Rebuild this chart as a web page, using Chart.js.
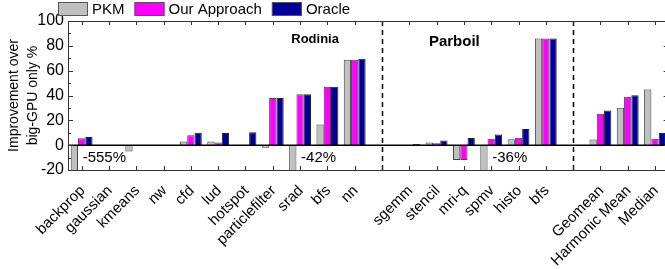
<!DOCTYPE html>
<html>
<head>
<meta charset="utf-8">
<script src="https://cdn.jsdelivr.net/npm/chart.js@4.4.1/dist/chart.umd.min.js"></script>
<style>
  html, body { margin: 0; padding: 0; background: #fff; overflow: hidden; }
  #wrap { position: relative; width: 665px; height: 269px; overflow: hidden; }
  #chart { position: absolute; left: 0; top: 0; }
</style>
</head>
<body>
<div id="wrap"><canvas id="chart" width="680" height="269"></canvas></div>
<script>
// benchmarks, with an empty slot where the dashed separators go
const categories = ['backprop', 'gaussian', 'kmeans', 'nw', 'cfd', 'lud', 'hotspot', 'particlefilter', 'srad', 'bfs', 'nn', '',
  'sgemm', 'stencil', 'mri-q', 'spmv', 'histo', 'bfs', '',
  'Geomean', 'Harmonic Mean', 'Median'];

const pkm = [-555, 0, -5, 0, 3, 3, 0, -2, -42, 16.7, 68.8, null,
  0, 2.2, -12, -36, 4.8, 86, null,
  4.6, 30.2, 44.8];
const ourApproach = [5.5, 0, 0, 0, 8, 2.2, 0, 38, 41, 47, 68.8, null,
  0, 1.6, -12, 5.1, 6, 86, null,
  25.4, 39, 5.1];
const oracle = [6.5, 0, 0, 0, 10, 9.7, 10.5, 38, 41, 47, 69.6, null,
  1, 3.8, 5.7, 8.6, 13, 86, null,
  28, 40.2, 9.7];

const yTicks = [-20, 0, 20, 40, 60, 80, 100];

// labels for the bars that run off the bottom of the plot
const clippedIdx = [0, 8, 15];
const clippedText = ['-555%', '-42%', '-36%'];

const separators = [11, 18];
const suiteNames = ['Rodinia', 'Parboil'];

const FONT = '"Liberation Sans", Arial, sans-serif';

const decor = {
  id: 'decor',
  afterDatasetsDraw(chart) {
    const ctx = chart.ctx;
    const area = chart.chartArea;
    const x = chart.scales.x;
    const y = chart.scales.y;
    const step = x.getPixelForValue(1) - x.getPixelForValue(0);
    ctx.save();

    // zero line
    ctx.strokeStyle = '#000';
    ctx.lineWidth = 1.5;
    ctx.beginPath();
    ctx.moveTo(area.left, y.getPixelForValue(0));
    ctx.lineTo(area.right, y.getPixelForValue(0));
    ctx.stroke();

    // dashed separators
    ctx.setLineDash([5, 4]);
    separators.forEach(i => {
      const px = Math.round(x.getPixelForValue(i)) + 0.5;
      ctx.beginPath();
      ctx.moveTo(px, area.top);
      ctx.lineTo(px, area.bottom);
      ctx.stroke();
    });
    ctx.setLineDash([]);

    // frame
    ctx.strokeStyle = '#333';
    ctx.lineWidth = 1;
    ctx.strokeRect(area.left + 0.5, area.top + 0.5, area.right - area.left, area.bottom - area.top);

    // inward ticks
    ctx.beginPath();
    for (let v = -20; v <= 100; v += 10) {
      const py = Math.round(y.getPixelForValue(v)) + 0.5;
      const len = v % 20 === 0 ? 5 : 3;
      ctx.moveTo(area.left, py); ctx.lineTo(area.left + len, py);
      ctx.moveTo(area.right, py); ctx.lineTo(area.right - len, py);
    }
    categories.forEach((c, i) => {
      const px = Math.round(x.getPixelForValue(i)) + 0.5;
      ctx.moveTo(px, area.bottom); ctx.lineTo(px, area.bottom - 4);
      ctx.moveTo(px, area.top); ctx.lineTo(px, area.top + 4);
    });
    ctx.stroke();

    // values of clipped bars
    ctx.fillStyle = '#000';
    ctx.font = '15px ' + FONT;
    ctx.textAlign = 'left';
    ctx.textBaseline = 'middle';
    clippedIdx.forEach((i, k) => {
      ctx.fillText(clippedText[k], x.getPixelForValue(i) + 1, y.getPixelForValue(-10));
    });

    // suite names
    ctx.textAlign = 'center';
    ctx.font = 'bold 13px ' + FONT;
    ctx.fillText(suiteNames[0], x.getPixelForValue(8) + step * 0.55, y.getPixelForValue(85));
    ctx.font = 'bold 15px ' + FONT;
    ctx.fillText(suiteNames[1], x.getPixelForValue(13) + step * 0.65, y.getPixelForValue(83));

    ctx.restore();
  },
  afterDraw(chart) {
    // legend row across the top
    const ctx = chart.ctx;
    ctx.save();
    ctx.font = '15px ' + FONT;
    ctx.textAlign = 'left';
    ctx.textBaseline = 'middle';
    let lx = 58;
    chart.data.datasets.forEach(ds => {
      ctx.fillStyle = ds.backgroundColor;
      ctx.fillRect(lx, 2, 30, 14);
      ctx.strokeStyle = '#555';
      ctx.lineWidth = 1;
      ctx.strokeRect(lx + 0.5, 2.5, 29, 13);
      ctx.fillStyle = '#000';
      ctx.fillText(ds.label, lx + 34, 9.5);
      lx += 34 + ctx.measureText(ds.label).width + 10;
    });
    ctx.restore();
  }
};

new Chart(document.getElementById('chart'), {
  type: 'bar',
  data: {
    labels: categories,
    datasets: [
      { label: 'PKM', data: pkm, backgroundColor: '#c0c0c0', borderColor: '#444', borderWidth: 1 },
      { label: 'Our Approach', data: ourApproach, backgroundColor: '#ff00ff', borderColor: '#444', borderWidth: 1 },
      { label: 'Oracle', data: oracle, backgroundColor: '#000099', borderColor: '#222', borderWidth: 1 }
    ]
  },
  options: {
    responsive: false,
    animation: false,
    devicePixelRatio: 1,
    layout: { padding: { top: 21, right: 11, left: 0, bottom: 0 } },
    datasets: {
      bar: { categoryPercentage: 0.8, barPercentage: 1.0 }
    },
    scales: {
      x: {
        grid: { display: false, drawTicks: false },
        border: { display: false },
        ticks: {
          autoSkip: false,
          maxRotation: 45,
          minRotation: 45,
          padding: 12,
          labelOffset: 1,
          color: '#000',
          font: { family: FONT, size: 15 }
        },
        afterFit(scale) { scale.height = 99; }
      },
      y: {
        min: -20,
        max: 100,
        grid: { display: false, drawTicks: false },
        border: { display: false },
        afterBuildTicks(scale) { scale.ticks = yTicks.map(v => ({ value: v })); },
        ticks: {
          padding: 4,
          color: '#000',
          font: { family: FONT, size: 16 }
        },
        title: {
          display: true,
          text: ['Improvement over', 'big-GPU only %'],
          color: '#000',
          padding: { top: 4, bottom: 0 },
          font: { family: FONT, size: 14, lineHeight: 1.4 }
        },
        afterFit(scale) { scale.width = 68; }
      }
    },
    plugins: {
      legend: { display: false },
      tooltip: { enabled: false }
    }
  },
  plugins: [decor]
});
</script>
</body>
</html>
